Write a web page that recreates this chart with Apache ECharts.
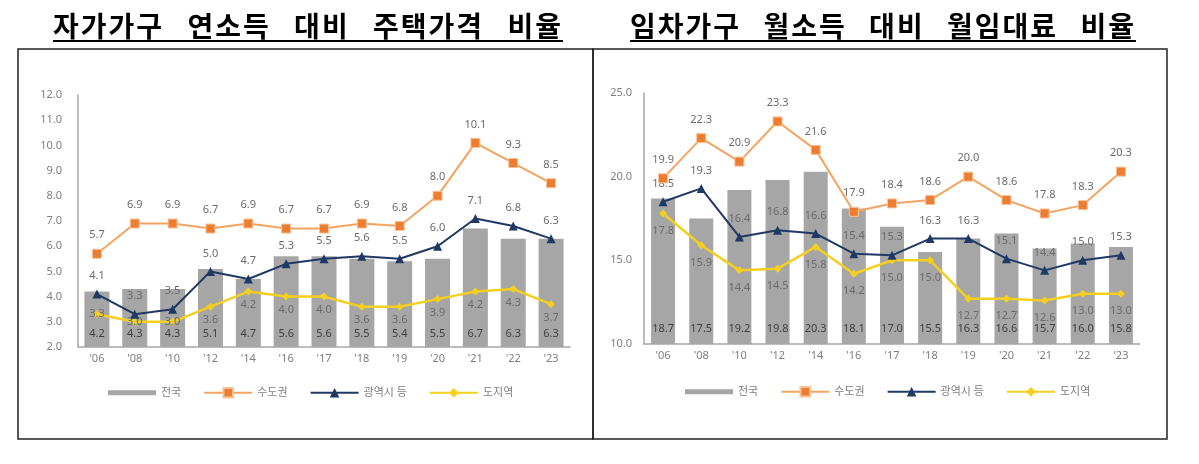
<!DOCTYPE html>
<html>
<head>
<meta charset="utf-8">
<script src="https://cdn.jsdelivr.net/npm/echarts@6/dist/echarts.min.js"></script>
<style>
  html, body { margin: 0; padding: 0; background: #fff; }
  #wrap { position: relative; width: 1199px; height: 464px; overflow: hidden; }
  #chart { position: absolute; left: 0; top: 0; width: 1199px; height: 464px; }
  .ttl { position: absolute; top: 8px; font-family: "Noto Sans CJK KR", sans-serif; font-weight: 700;
         font-size: 28px; line-height: 34px; color: #000; white-space: nowrap; letter-spacing: 2px;
         text-decoration: underline; text-decoration-thickness: 2px; text-underline-offset: 3px; transform: translateX(-50%); }
</style>
</head>
<body>
<div id="wrap">
  <div id="chart"></div>
  <div class="ttl" id="t1" style="left:308px; word-spacing:15px;">자가가구 연소득 대비 주택가격 비율</div>
  <div class="ttl" id="t2" style="left:883px; word-spacing:14px;">임차가구 월소득 대비 월임대료 비율</div>
</div>
<script>
// ---- data ----
const categories = ["'06","'08","'10","'12","'14","'16","'17","'18","'19","'20","'21","'22","'23"];
const seriesNames = ['전국', '수도권', '광역시 등', '도지역'];

// 자가가구 연소득 대비 주택가격 비율 (PIR)
const pirNational = [4.2, 4.3, 4.3, 5.1, 4.7, 5.6, 5.6, 5.5, 5.4, 5.5, 6.7, 6.3, 6.3];
const pirCapital  = [5.7, 6.9, 6.9, 6.7, 6.9, 6.7, 6.7, 6.9, 6.8, 8.0, 10.1, 9.3, 8.5];
const pirMetro    = [4.1, 3.3, 3.5, 5.0, 4.7, 5.3, 5.5, 5.6, 5.5, 6.0, 7.1, 6.8, 6.3];
const pirProvince = [3.3, 3.0, 3.0, 3.6, 4.2, 4.0, 4.0, 3.6, 3.6, 3.9, 4.2, 4.3, 3.7];

// 임차가구 월소득 대비 월임대료 비율 (RIR)
const rirNational = [18.7, 17.5, 19.2, 19.8, 20.3, 18.1, 17.0, 15.5, 16.3, 16.6, 15.7, 16.0, 15.8];
const rirCapital  = [19.9, 22.3, 20.9, 23.3, 21.6, 17.9, 18.4, 18.6, 20.0, 18.6, 17.8, 18.3, 20.3];
const rirMetro    = [18.5, 19.3, 16.4, 16.8, 16.6, 15.4, 15.3, 16.3, 16.3, 15.1, 14.4, 15.0, 15.3];
const rirProvince = [17.8, 15.9, 14.4, 14.5, 15.8, 14.2, 15.0, 15.0, 12.7, 12.7, 12.6, 13.0, 13.0];

// ---- chart ----
const FONT = "'Noto Sans', 'Noto Sans CJK KR', sans-serif";
const GRAY = '#a6a6a6', ORANGE = '#ed7d31', ORANGE_LINE = '#f4a461', NAVY = '#1f3864', YELLOW = '#f5cf1f';
const fmt = p => Number(p.value).toFixed(1);

function axisX(gi) {
  return {
    type: 'category', gridIndex: gi, data: categories, boundaryGap: true,
    axisLine: { lineStyle: { color: GRAY, width: 1.5 } },
    axisTick: { show: false },
    axisLabel: { color: '#7f7f7f', fontSize: 11, fontFamily: FONT, margin: 6 }
  };
}
function axisY(gi, min, max, interval, margin) {
  return {
    type: 'value', gridIndex: gi, min: min, max: max, interval: interval,
    axisLine: { show: true, lineStyle: { color: GRAY, width: 1.5 } },
    axisTick: { show: false }, splitLine: { show: false },
    axisLabel: { color: '#7f7f7f', fontSize: 11, fontFamily: FONT, margin: margin, formatter: v => v.toFixed(1) }
  };
}
// label positions for the 도지역 series: points sitting on the bar labels get their label centred on the point
function provinceData(values, centredCount) {
  return values.map((v, i) => i < centredCount ? { value: v, label: { position: 'inside' } } : v);
}
function makeSeries(gi, nat, cap, met, pro, barW, barDist, proDist, centredCount) {
  const lbl = (pos, dist) => ({ show: true, position: pos, distance: dist, color: '#6b6b6b', fontSize: 11, fontFamily: FONT, formatter: fmt });
  return [
    { name: seriesNames[0], type: 'bar', xAxisIndex: gi, yAxisIndex: gi, data: nat, barWidth: barW,
      itemStyle: { color: GRAY }, z: 1,
      label: { show: true, position: 'insideBottom', distance: barDist, color: '#3f3f3f', fontSize: 11, fontFamily: FONT, formatter: fmt } },
    { name: seriesNames[1], type: 'line', xAxisIndex: gi, yAxisIndex: gi, data: cap,
      symbol: 'rect', symbolSize: 9, itemStyle: { color: ORANGE, borderColor: '#f8c196', borderWidth: 1 },
      lineStyle: { color: ORANGE_LINE, width: 2 }, label: lbl('top', 8), z: 4 },
    { name: seriesNames[2], type: 'line', xAxisIndex: gi, yAxisIndex: gi, data: met,
      symbol: 'triangle', symbolSize: 9, itemStyle: { color: NAVY },
      lineStyle: { color: NAVY, width: 2 }, label: lbl('top', 8), z: 3 },
    { name: seriesNames[3], type: 'line', xAxisIndex: gi, yAxisIndex: gi, data: provinceData(pro, centredCount),
      symbol: 'diamond', symbolSize: 8, itemStyle: { color: YELLOW },
      lineStyle: { color: YELLOW, width: 2.5 }, label: lbl('bottom', proDist), z: 2 }
  ];
}
function makeLegend(left, top) {
  return {
    left: left, top: top, itemWidth: 48, itemHeight: 12, itemGap: 22,
    textStyle: { color: '#7f7f7f', fontSize: 11, fontFamily: FONT },
    data: [
      { name: seriesNames[0], icon: 'path://M0,0L48,0L48,5L0,5Z' },
      seriesNames[1], seriesNames[2], seriesNames[3]
    ]
  };
}

const chart = echarts.init(document.getElementById('chart'), null, { renderer: 'canvas' });
chart.setOption({
  backgroundColor: '#ffffff',
  animation: false,
  grid: [
    { left: 78, top: 95, width: 492, height: 252 },
    { left: 644, top: 93, width: 496, height: 251 }
  ],
  xAxis: [axisX(0), axisX(1)],
  yAxis: [axisY(0, 2, 12, 1, 16), axisY(1, 10, 25, 5, 12)],
  legend: [makeLegend(103, 382), makeLegend(680, 381)],
  graphic: [
    { type: 'rect', shape: { x: 18, y: 49, width: 575, height: 390 }, style: { fill: 'none', stroke: '#222', lineWidth: 1.5 }, silent: true },
    { type: 'rect', shape: { x: 593, y: 49, width: 574, height: 390 }, style: { fill: 'none', stroke: '#222', lineWidth: 1.5 }, silent: true }
  ],
  series: [].concat(
    makeSeries(0, pirNational, pirCapital, pirMetro, pirProvince, 25, 8, 4, 3),
    makeSeries(1, rirNational, rirCapital, rirMetro, rirProvince, 24, 10, 8, 0)
  )
});
</script>
</body>
</html>
